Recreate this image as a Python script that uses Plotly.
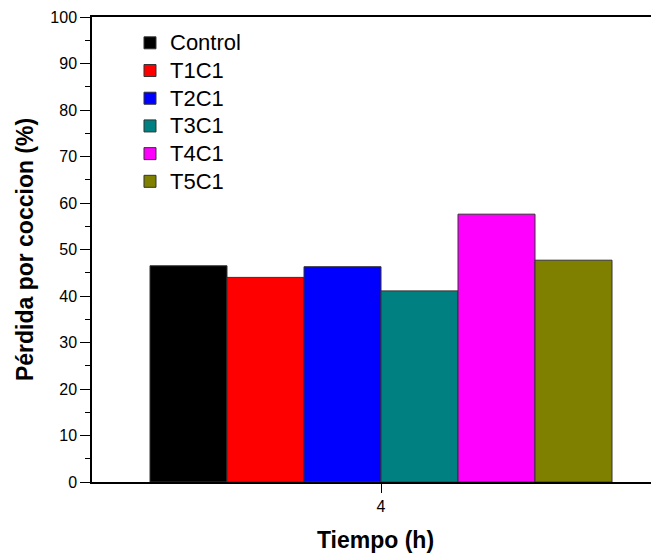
import plotly.graph_objects as go

series_names = ["Control", "T1C1", "T2C1", "T3C1", "T4C1", "T5C1"]
series_values = [46.5, 44.0, 46.3, 41.1, 57.6, 47.7]
series_colors = ["#000000", "#FF0000", "#0000FF", "#008080", "#FF00FF", "#808000"]
time_values = [4]

FONT = "Arial, Liberation Sans, sans-serif"

# The page body has an 8px default margin, so the figure is sized to fill the rest of the window.
fig = go.Figure()
for name, val, col in zip(series_names, series_values, series_colors):
    fig.add_trace(go.Bar(
        x=time_values, y=[val],
        name=f'<span style="font-size:22px">{name}</span>',
        marker=dict(color=col, line=dict(color="#333333", width=1)),
    ))

fig.update_layout(
    width=651, height=546,
    margin=dict(l=84, r=0, t=9, b=72),
    paper_bgcolor="white", plot_bgcolor="white",
    barmode="group", bargap=0.2, bargroupgap=0,
    font=dict(family=FONT, color="black"),
    legend=dict(
        x=0.067, y=0.985, xanchor="left", yanchor="top",
        font=dict(size=19, family=FONT),
        bgcolor="rgba(0,0,0,0)",
    ),
    xaxis=dict(
        automargin=False,
        range=[3.49957, 4.48139],
        tickmode="array", tickvals=time_values, ticktext=[str(t) for t in time_values],
        ticks="outside", ticklen=9, tickwidth=1, tickcolor="black",
        showline=True, linecolor="black", linewidth=1.5, mirror=True,
        showgrid=False, zeroline=False,
        tickfont=dict(size=16, family=FONT),
        title=dict(text="<b>Tiempo (h)</b>", font=dict(size=23, family=FONT), standoff=18),
    ),
    yaxis=dict(
        automargin=False,
        range=[0, 100], dtick=10,
        ticks="outside", ticklen=10, tickwidth=1, tickcolor="black",
        minor=dict(dtick=5, ticks="outside", ticklen=5, tickcolor="black", tickwidth=1),
        showline=True, linecolor="black", linewidth=1.5,
        showgrid=False, zeroline=False,
        tickfont=dict(size=16, family=FONT),
        title=dict(text="<b>Pérdida por coccion (%)</b>", font=dict(size=23, family=FONT), standoff=10),
    ),
)

fig.write_html("out.html")
